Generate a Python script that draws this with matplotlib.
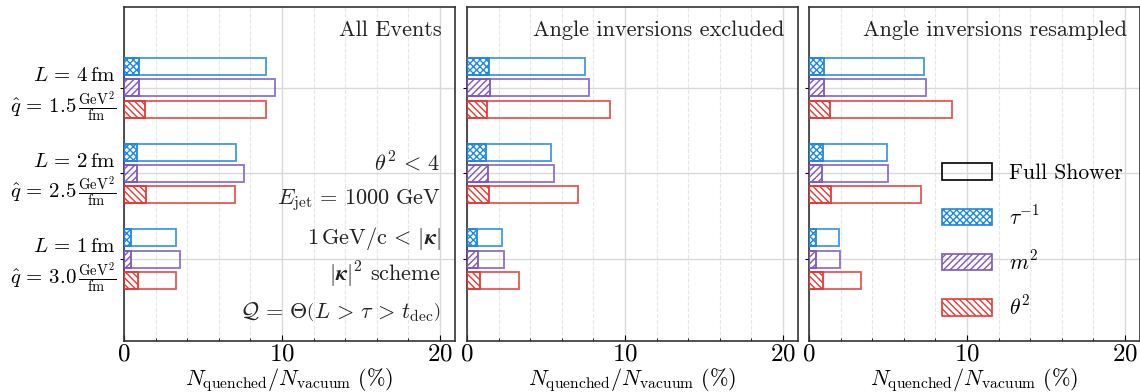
import matplotlib
matplotlib.use("Agg")
import matplotlib.pyplot as plt
from matplotlib.patches import Patch
from matplotlib.ticker import MultipleLocator
import numpy as np

plt.rcParams['font.family'] = 'serif'
plt.rcParams['font.serif'] = ['cmr10']
plt.rcParams['mathtext.fontset'] = 'cm'
plt.rcParams['axes.formatter.use_mathtext'] = True
plt.rcParams['hatch.linewidth'] = 1.0

# ---------------- data ----------------
group_labels = [
    "$L\\,=\\,4\\,\\mathrm{fm}$\n$\\hat{q}\\,=\\,1.5\\,\\frac{\\mathrm{GeV}^2}{\\mathrm{fm}}$",
    "$L\\,=\\,2\\,\\mathrm{fm}$\n$\\hat{q}\\,=\\,2.5\\,\\frac{\\mathrm{GeV}^2}{\\mathrm{fm}}$",
    "$L\\,=\\,1\\,\\mathrm{fm}$\n$\\hat{q}\\,=\\,3.0\\,\\frac{\\mathrm{GeV}^2}{\\mathrm{fm}}$",
]
panel_titles = ["All Events", "Angle inversions excluded", "Angle inversions resampled"]
series_labels = [r"$\tau^{-1}$", r"$m^2$", r"$\theta^2$"]

# full shower (outline bars), per panel, per group (L=4, L=2, L=1)
full_tau = [[9.0, 7.1, 3.32], [7.5, 5.3, 2.2], [7.3, 4.93, 1.92]]
full_m2 = [[9.54, 7.6, 3.57], [7.7, 5.5, 2.32], [7.38, 5.0, 1.94]]
full_theta2 = [[9.0, 7.04, 3.26], [9.03, 7.04, 3.27], [9.05, 7.06, 3.28]]
# hatched (ordering-variable) bars
inner_tau = [[0.92, 0.84, 0.44], [1.37, 1.22, 0.63], [0.93, 0.87, 0.44]]
inner_m2 = [[0.92, 0.84, 0.44], [1.45, 1.33, 0.70], [0.93, 0.80, 0.44]]
inner_theta2 = [[1.30, 1.37, 0.86], [1.27, 1.39, 0.84], [1.31, 1.38, 0.87]]

annotations = [
    r"$\theta^2\,<\,4$",
    r"$E_{\mathrm{jet}}\,=\,1000\ \mathrm{GeV}$",
    r"$1\,\mathrm{GeV/c}\,<\,|\boldsymbol{\kappa}|$",
    r"$|\boldsymbol{\kappa}|^2$ scheme",
    r"$\mathcal{Q}\,=\,\Theta\left(L\,>\,\tau\,>\,t_{\mathrm{dec}}\right)$",
]

colors = ["#1e88e5", "#7e57c2", "#e53935"]
hatches = ["xxxxx", "/////", "\\\\\\\\\\"]

fulls = [full_tau, full_m2, full_theta2]
inners = [inner_tau, inner_m2, inner_theta2]
offsets = [-0.25, 0.0, 0.25]
bar_h = 0.2

fig = plt.figure(figsize=(11.4, 3.92), dpi=100)
W = 1140.0
H = 392.0
lefts = [124, 467, 809]
aw = 331
bottom = 341
top = 7

ypos = np.arange(len(group_labels))
axes = []
for p in range(3):
    ax = fig.add_axes([lefts[p] / W, 1 - bottom / H, aw / W, (bottom - top) / H])
    axes.append(ax)
    ax.set_axisbelow(True)
    for s in range(3):
        ax.barh(ypos + offsets[s], fulls[s][p], height=bar_h, facecolor='none',
                edgecolor=colors[s], alpha=0.85, lw=1.3, zorder=2)
        ax.barh(ypos + offsets[s], inners[s][p], height=bar_h, facecolor='none',
                edgecolor=colors[s], hatch=hatches[s], lw=1.3, zorder=3)
    ax.set_xlim(0, 20.95)
    ax.set_ylim(2.957, -0.945)
    ax.xaxis.set_major_locator(MultipleLocator(10))
    ax.xaxis.set_minor_locator(MultipleLocator(2))
    ax.grid(which='major', axis='both', color='#d9d9d9', lw=1.0, ls='-')
    ax.grid(which='minor', axis='x', color='#e6e6e6', lw=0.8, ls='--')
    ax.set_yticks(ypos)
    if p == 0:
        ax.set_yticklabels(group_labels, fontsize=15, ha='right', multialignment='right')
    else:
        ax.set_yticklabels([])
    ax.tick_params(axis='y', which='major', direction='out', length=3, pad=3)
    ax.tick_params(axis='x', which='major', direction='in', length=4, pad=2, labelsize=18)
    ax.tick_params(axis='x', which='minor', direction='in', length=2.5)
    for sp in ax.spines.values():
        sp.set_color('#333333')
        sp.set_linewidth(1.2)
    ax.set_xlabel(r"$N_{\mathrm{quenched}}/N_{\mathrm{vacuum}}\ (\%)$", fontsize=16, labelpad=0)
    ax.text(0.96, 0.93, panel_titles[p], transform=ax.transAxes, ha='right', va='center',
            fontsize=16, color='#222222')

# annotations in first panel
ann_y = [0.533, 0.422, 0.308, 0.198, 0.087]
for t, yy in zip(annotations, ann_y):
    axes[0].text(0.957, yy, t, transform=axes[0].transAxes, ha='right', va='center',
                 fontsize=16, color='#222222')

handles = [Patch(facecolor='none', edgecolor='black', lw=1.2, label='Full Shower')]
for s in range(3):
    handles.append(Patch(facecolor='none', edgecolor=colors[s], hatch=hatches[s], lw=1.2,
                         label=series_labels[s]))
leg = axes[2].legend(handles=handles, loc='upper left', bbox_to_anchor=(0.376, 0.558),
                     frameon=False, fontsize=15.5, handlelength=2.3, handleheight=0.8,
                     labelspacing=1.0, handletextpad=0.8, borderaxespad=0)

fig.savefig("out.png", dpi=100)
